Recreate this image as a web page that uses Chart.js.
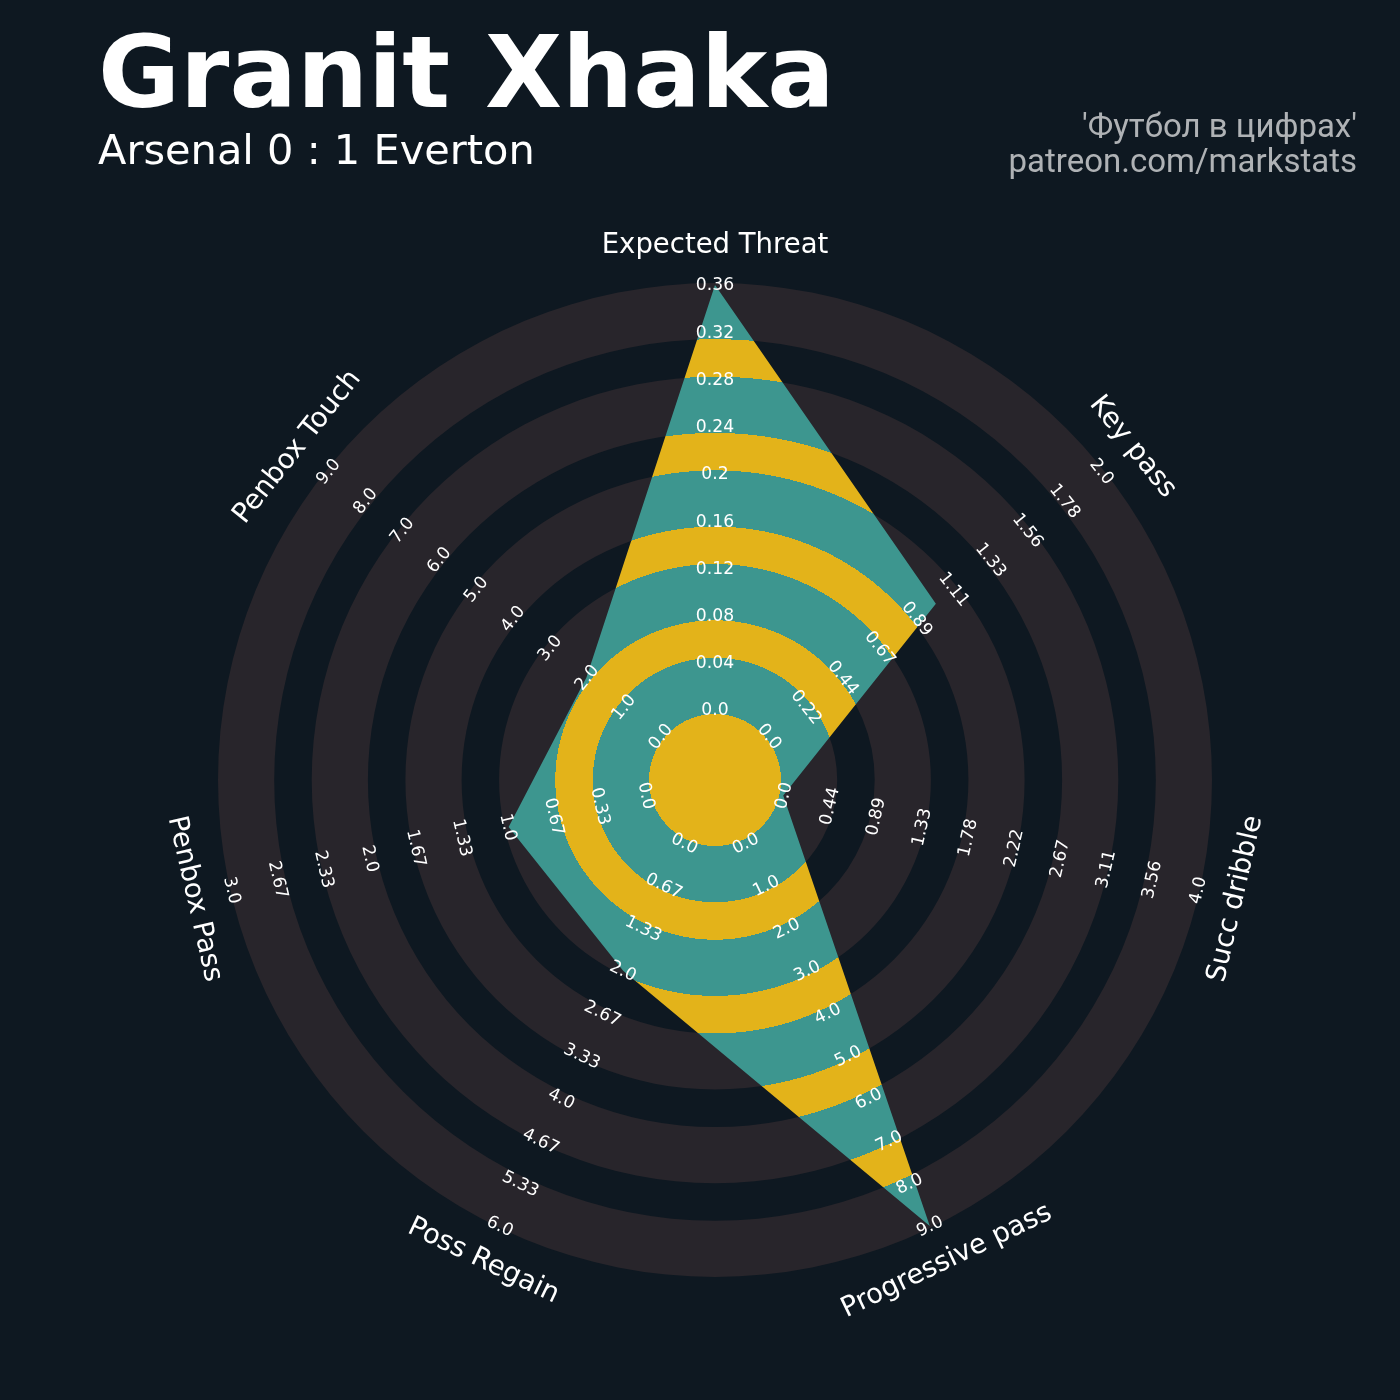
<!DOCTYPE html>
<html lang="en">
<head>
  <meta charset="UTF-8">
  <title>Granit Xhaka - radar</title>
  <style>
    html, body {
      margin: 0;
      padding: 0;
      background: #0e1821;
    }

    #wrap {
      width: 1400px;
      height: 1400px;
    }
  </style>
</head>
<body>

<div id="wrap">
  <canvas id="radar" width="1400" height="1400"></canvas>
</div>

<script src="https://cdn.jsdelivr.net/npm/chart.js"></script>
<script>
  // parameters, clockwise from the top
  const params = ['Expected Threat', 'Key pass', 'Succ dribble', 'Progressive pass', 'Poss Regain', 'Penbox Pass', 'Penbox Touch'];

  // player values per parameter
  const values = [0.36, 1.0, 0.0, 9.0, 2.0, 1.0, 2.0];

  // top of each parameter range (all ranges start at 0)
  const rangeMax = [0.36, 2.0, 4.0, 9.0, 6.0, 3.0, 9.0];

  // range labels written along each axis, centre outwards
  const tickLabels = [
    ['0.0', '0.04', '0.08', '0.12', '0.16', '0.2', '0.24', '0.28', '0.32', '0.36'],
    ['0.0', '0.22', '0.44', '0.67', '0.89', '1.11', '1.33', '1.56', '1.78', '2.0'],
    ['0.0', '0.44', '0.89', '1.33', '1.78', '2.22', '2.67', '3.11', '3.56', '4.0'],
    ['0.0', '1.0', '2.0', '3.0', '4.0', '5.0', '6.0', '7.0', '8.0', '9.0'],
    ['0.0', '0.67', '1.33', '2.0', '2.67', '3.33', '4.0', '4.67', '5.33', '6.0'],
    ['0.0', '0.33', '0.67', '1.0', '1.33', '1.67', '2.0', '2.33', '2.67', '3.0'],
    ['0.0', '1.0', '2.0', '3.0', '4.0', '5.0', '6.0', '7.0', '8.0', '9.0']
  ];

  const title = 'Granit Xhaka';
  const subtitle = 'Arsenal 0 : 1 Everton';
  const credit = ["'Футбол в цифрах'", 'patreon.com/markstats'];

  // colours
  const BG = '#0e1821';
  const RING = '#28252b';
  const TEAL = '#3d968f';
  const YELLOW = '#e3b31a';

  // ring geometry, as fractions of the outer radius
  const CENTER_FRAC = 66 / 497;
  const WIDE_FRAC = 56.2 / 497;
  const NARROW_FRAC = 37.5 / 497;

  // radii of the ring edges (centre disc edge first, outer edge last)
  function ringEdges(R) {
    const edges = [CENTER_FRAC * R];
    for (let i = 0; i < 9; i++) {
      const w = i % 2 === 0 ? WIDE_FRAC : NARROW_FRAC;
      edges.push(edges[i] + w * R);
    }
    return edges;
  }

  // polygon fill: yellow / teal bands following the rings
  function bandFill(context) {
    const chart = context.chart;
    const s = chart.scales.r;
    if (!s || !chart.chartArea) return TEAL;
    const R = s.drawingArea;
    const g = chart.ctx.createRadialGradient(s.xCenter, s.yCenter, 0, s.xCenter, s.yCenter, R);
    const edges = ringEdges(R);
    let start = 0;
    edges.forEach((r, i) => {
      const c = i % 2 === 0 ? YELLOW : TEAL;
      g.addColorStop(Math.min(start / R, 1), c);
      g.addColorStop(Math.min(r / R, 1), c);
      start = r;
    });
    return g;
  }

  // text rotation along the circle, flipped so it never reads upside down
  function textAngle(a) {
    let deg = a * 180 / Math.PI;
    if (deg > 90 && deg < 270) deg -= 180;
    return deg * Math.PI / 180;
  }

  const radarDeco = {
    id: 'radarDeco',
    beforeDraw(chart) {
      const ctx = chart.ctx;
      const s = chart.scales.r;
      ctx.save();
      ctx.fillStyle = BG;
      ctx.fillRect(0, 0, chart.width, chart.height);

      // grey background rings
      const edges = ringEdges(s.drawingArea);
      ctx.fillStyle = RING;
      for (let i = 0; i < edges.length - 1; i += 2) {
        ctx.beginPath();
        ctx.arc(s.xCenter, s.yCenter, edges[i + 1], 0, Math.PI * 2);
        ctx.arc(s.xCenter, s.yCenter, edges[i], 0, Math.PI * 2, true);
        ctx.fill();
      }
      ctx.restore();
    },
    afterDraw(chart) {
      const ctx = chart.ctx;
      const s = chart.scales.r;
      ctx.save();
      ctx.textAlign = 'center';
      ctx.textBaseline = 'middle';

      params.forEach((p, i) => {
        const rot = textAngle(s.getIndexAngle(i));

        // range labels along the axis
        ctx.font = '17.2px "DejaVu Sans"';
        ctx.fillStyle = '#ffffff';
        tickLabels[i].forEach((t, k) => {
          const pos = s.getPointPositionForValue(i, k / (tickLabels[i].length - 1));
          ctx.save();
          ctx.translate(pos.x, pos.y);
          ctx.rotate(rot);
          ctx.fillText(t, 0, 1);
          ctx.restore();
        });

        // parameter name
        const lp = s.getPointPosition(i, s.drawingArea + 37);
        ctx.font = '27.5px "DejaVu Sans"';
        ctx.save();
        ctx.translate(lp.x, lp.y);
        ctx.rotate(rot);
        ctx.fillText(p, 0, 0);
        ctx.restore();
      });

      // titles
      ctx.textBaseline = 'alphabetic';
      ctx.textAlign = 'left';
      ctx.fillStyle = '#ffffff';
      ctx.font = 'bold 100px "DejaVu Sans"';
      ctx.fillText(title, 98, 107);
      ctx.font = '41.5px "DejaVu Sans"';
      ctx.fillText(subtitle, 98, 164);

      ctx.textAlign = 'right';
      ctx.fillStyle = '#afb2b5';
      ctx.font = '33px Roboto';
      ctx.fillText(credit[0], 1357, 137);
      ctx.fillText(credit[1], 1357, 172);
      ctx.restore();
    }
  };

  const ctx = document.getElementById('radar').getContext('2d');

  new Chart(ctx, {
    type: 'radar',
    data: {
      labels: params,
      datasets: [{
        label: title,
        data: values.map((v, i) => v / rangeMax[i]),
        backgroundColor: bandFill,
        borderColor: 'rgba(0,0,0,0)',
        borderWidth: 0,
        pointRadius: 0,
        pointHoverRadius: 0,
        fill: 'shape'
      }]
    },
    options: {
      responsive: false,
      animation: false,
      devicePixelRatio: 1,
      layout: {
        padding: { left: 218, right: 188, top: 283, bottom: 123 }
      },
      plugins: {
        legend: { display: false },
        tooltip: { enabled: false }
      },
      scales: {
        r: {
          min: -0.1647,
          max: 1.0047,
          ticks: { display: false },
          grid: { display: false },
          angleLines: { display: false },
          pointLabels: { display: false }
        }
      }
    },
    plugins: [radarDeco]
  });
</script>
</body>
</html>
